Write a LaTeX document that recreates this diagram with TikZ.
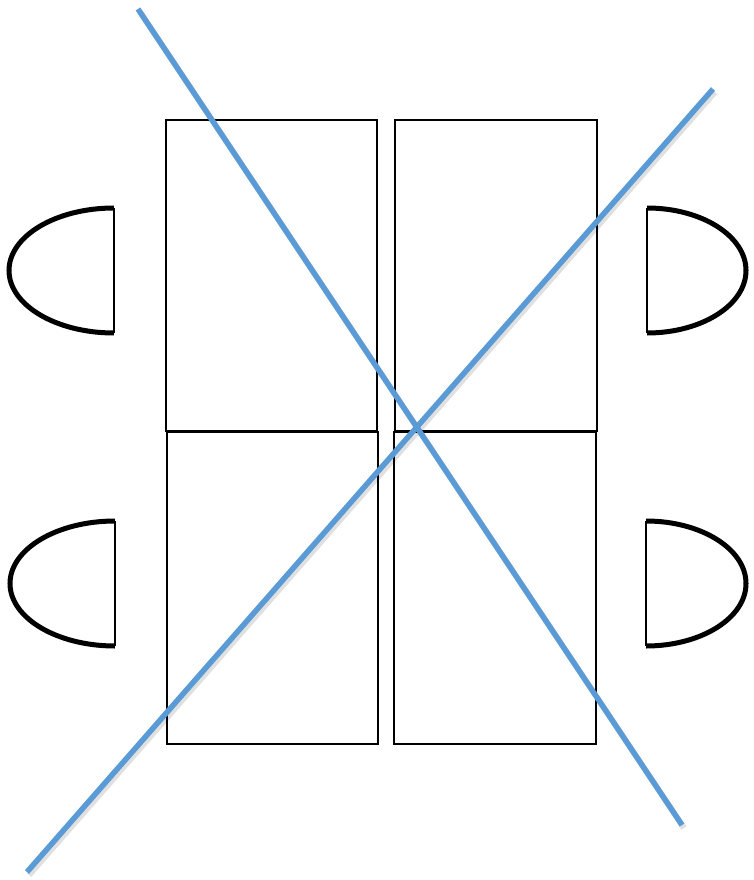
\documentclass[tikz,border=0pt]{standalone}

\definecolor{crossblue}{RGB}{91,155,213}

\newcommand{\pchair}[4]{
	\pgfmathsetmacro{\PCx}{#1}
	\pgfmathsetmacro{\PCya}{#2}
	\pgfmathsetmacro{\PCyb}{#3}
	\pgfmathsetmacro{\PCd}{#4}
	\pgfmathsetmacro{\PCym}{0.5 * \PCya + 0.5 * \PCyb}
	\pgfmathsetmacro{\PCry}{0.5 * (\PCyb - \PCya)}
	\pgfmathsetmacro{\PCxa}{\PCx + 0.552 * \PCd}
	\pgfmathsetmacro{\PCxb}{\PCx + \PCd}
	\pgfmathsetmacro{\PCyc}{\PCym - 0.552 * \PCry}
	\pgfmathsetmacro{\PCyd}{\PCym + 0.552 * \PCry}
	\draw[chairedge] (\PCx, \PCya) -- (\PCx, \PCyb);
	\draw[chairseat] (\PCx, \PCya) .. controls (\PCxa, \PCya) and (\PCxb, \PCyc) .. (\PCxb, \PCym)
		.. controls (\PCxb, \PCyd) and (\PCxa, \PCyb) .. (\PCx, \PCyb);
}

\tikzset{
	desk/.style={draw=black, line width=1.8},
	chairedge/.style={draw=black, line width=2.2},
	chairseat/.style={draw=black, line width=5},
	cross/.style={draw=crossblue, line width=5.5},
	crossshadow/.style={draw=black, opacity=0.12, line width=6}
}

\begin{document}
\begin{tikzpicture}[x=1pt, y=-1pt]
\useasboundingbox (0,0) rectangle (754,880);

% tables
\draw[desk] (166,120) rectangle (377,431);
\draw[desk] (395,120) rectangle (597,431);
\draw[desk] (167,432) rectangle (378,744);
\draw[desk] (394,432) rectangle (596,744);

% chairs
\pchair{114}{208}{333}{-105}
\pchair{115}{521}{646}{-105}
\pchair{647}{208}{333}{99}
\pchair{646}{521}{646}{100}

% crossing out
\coordinate (ca) at (138,9);
\coordinate (cb) at (682,825);
\coordinate (cc) at (713,89);
\coordinate (cd) at (27,872);
\draw[crossshadow] ([shift={(2,3)}]ca) -- ([shift={(2,3)}]cb);
\draw[crossshadow] ([shift={(2,3)}]cc) -- ([shift={(2,3)}]cd);
\draw[cross] (ca) -- (cb);
\draw[cross] (cc) -- (cd);
\end{tikzpicture}
\end{document}
